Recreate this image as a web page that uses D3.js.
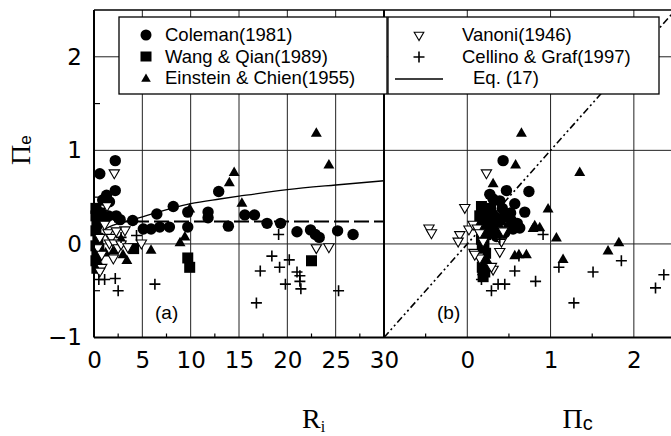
<!DOCTYPE html>
<html>
<head>
<meta charset="utf-8">
<script src="https://cdn.jsdelivr.net/npm/d3@7"></script>
<style>
  body { margin: 0; background: #fff; }
  svg { display: block; }
</style>
</head>
<body>
<svg id="chart" width="671" height="436"></svg>
<script>
// ---- Panel (a): Pi_e against R_i ----
const colemanA = [[0.6,0.75],[2.2,0.89],[2.2,0.57],[1.3,0.52],[0.9,0.47],[1.6,0.45],[0.5,0.34],[1.0,0.31],[1.5,0.30],[2.3,0.30],[2.7,0.26],[1.0,0.25],[0.4,0.26],[4.0,0.25],[6.5,0.32],[8.2,0.40],[5.1,0.16],[5.9,0.16],[6.8,0.18],[7.8,0.18],[9.7,0.34],[9.7,0.18],[11.8,0.34],[11.8,0.28],[12.9,0.56],[13.9,0.19],[15.6,0.31],[16.6,0.31],[17.9,0.22],[19.3,0.22],[21.0,0.13],[22.4,0.15],[22.9,0.10],[23.3,0.07],[25.2,0.14],[26.8,0.10]];
const wangQianA = [[0.2,0.38],[0.2,0.30],[0.3,0.22],[0.2,0.14],[0.4,0.06],[0.2,-0.02],[0.3,-0.10],[0.2,-0.18],[0.3,-0.26],[0.6,0.33],[0.7,0.25],[0.5,-0.05],[4.1,-0.05],[9.7,-0.15],[9.9,-0.25],[22.5,-0.18]];
const einsteinA = [[23.0,1.18],[24.3,0.84],[14.5,0.76],[14.0,0.65],[15.3,0.43],[9.9,0.37],[9.4,0.07],[8.9,0.01],[5.9,-0.07],[3.4,-0.18],[2.8,0.05],[2.0,-0.08],[0.3,-0.15],[0.5,-0.22],[1.2,-0.10],[3.0,-0.12]];
const vanoniA = [[2.1,0.76],[1.35,0.41],[1.1,0.21],[3.2,0.15],[4.9,0.01],[0.6,0.07],[0.4,-0.04],[0.8,-0.11],[1.45,0.12],[1.8,0.07],[1.6,0.01],[2.3,0.14],[2.1,0.01],[2.5,-0.04],[2.0,-0.15],[2.8,0.0],[3.5,-0.03],[0.8,-0.25],[0.6,-0.29],[23.0,-0.04],[24.3,-0.03]];
const cellinoA = [[0.5,-0.38],[1.1,-0.38],[2.2,-0.37],[2.5,-0.50],[6.3,-0.43],[4.4,0.09],[2.8,0.07],[19.1,0.10],[18.4,-0.13],[20.2,-0.17],[19.2,-0.25],[17.2,-0.29],[21.0,-0.30],[21.3,-0.34],[21.3,-0.40],[21.4,-0.48],[19.8,-0.43],[16.8,-0.63],[25.3,-0.50]];
const eq17Curve = [[1,0.15],[2,0.2],[4,0.26],[6,0.32],[8,0.38],[10,0.43],[13,0.48],[15,0.51],[20,0.58],[25,0.63],[30,0.675]];
const meanLine = [[0,0.24],[30,0.24]];

// ---- Panel (b): Pi_e against Pi_c ----
const colemanB = [[0.43,0.89],[0.27,0.53],[0.31,0.48],[0.47,0.57],[0.39,0.46],[0.74,0.56],[0.57,0.43],[0.69,0.34],[0.63,0.17],[0.53,0.25],[0.55,0.16],[0.22,0.30],[0.25,0.35],[0.30,0.32],[0.35,0.28],[0.40,0.25],[0.45,0.30],[0.30,0.20],[0.38,0.15],[0.45,0.12],[0.50,0.18],[0.28,0.12],[0.35,0.08],[0.60,0.22],[0.42,0.38],[0.52,0.33]];
const wangQianB = [[0.17,0.40],[0.20,0.35],[0.15,0.30],[0.22,0.27],[0.17,0.22],[0.25,0.20],[0.18,0.15],[0.22,0.10],[0.17,0.05],[0.20,0.00],[0.18,-0.05],[0.22,-0.10],[0.19,-0.15],[0.20,-0.20],[0.18,-0.25],[0.21,-0.30],[0.19,-0.35],[0.28,0.38],[0.30,0.30]];
const einsteinB = [[0.65,1.18],[0.58,0.84],[1.35,0.76],[0.31,0.64],[0.97,0.37],[0.81,0.19],[0.79,0.16],[0.87,0.17],[1.07,0.06],[1.15,-0.17],[1.69,-0.08],[1.82,0.01],[0.57,-0.13],[0.71,-0.12],[0.62,-0.12],[0.17,0.05],[0.20,-0.10],[0.25,-0.20],[0.18,-0.30]];
const vanoniB = [[-0.46,0.17],[-0.43,0.12],[-0.03,0.39],[-0.09,0.10],[-0.11,0.03],[0.02,0.16],[0.07,0.21],[0.12,0.17],[0.08,-0.09],[0.14,-0.13],[0.23,0.76],[0.15,0.12],[0.19,0.03],[0.15,-0.15],[0.31,-0.27],[0.43,0.14],[0.41,0.03],[0.39,-0.08],[0.29,-0.24],[0.09,-0.11]];
const cellinoB = [[0.91,0.10],[1.10,-0.25],[1.51,-0.30],[1.28,-0.63],[1.85,-0.18],[2.36,-0.33],[2.26,-0.47],[0.57,-0.29],[0.82,-0.40],[0.29,-0.50],[0.37,-0.43],[0.45,-0.43],[0.62,-0.13],[0.39,0.05],[0.17,-0.38]];
const oneToOne = [[-1,-1],[2.5,2.5]];

// ---- Ticks and labels ----
const yTicks = [-1, 0, 1, 2];
const yMinor = [-0.5, 0.5, 1.5];
const xTicksA = [0, 5, 10, 15, 20, 25, 30];
const xMinorA = [2.5, 7.5, 12.5, 17.5, 22.5, 27.5];
const xTicksB = [0, 1, 2];
const xMinorB = [-0.5, 0.5, 1.5];
const legendLeft = ["Coleman(1981)", "Wang & Qian(1989)", "Einstein & Chien(1955)"];
const legendRight = ["Vanoni(1946)", "Cellino & Graf(1997)", "Eq. (17)"];

const svg = d3.select("#chart");
const y = d3.scaleLinear().domain([-1, 2.5]).range([337.5, 10]);
const xa = d3.scaleLinear().domain([0, 30]).range([94, 384]);
const xb = d3.scaleLinear().domain([-1, 2.5]).range([384, 675.5]);
const yTop = y(2.5), yBottom = y(-1);
const sans = "'Liberation Sans', Arial, Helvetica, sans-serif";
const tickFont = "'DejaVu Sans', Verdana, sans-serif";
const serif = "'Liberation Serif', 'Times New Roman', serif";

svg.append("rect").attr("width", 671).attr("height", 436).attr("fill", "#fff");

// grid
const grid = svg.append("g").attr("stroke", "#222").attr("stroke-width", 1);
xTicksA.slice(1, -1).forEach(v => grid.append("line")
  .attr("x1", xa(v)).attr("x2", xa(v)).attr("y1", yTop).attr("y2", yBottom));
xTicksB.forEach(v => grid.append("line")
  .attr("x1", xb(v)).attr("x2", xb(v)).attr("y1", yTop).attr("y2", yBottom));
[0, 1, 2].forEach(v => grid.append("line")
  .attr("x1", xa(0)).attr("x2", 671).attr("y1", y(v)).attr("y2", y(v)));

// minor ticks
const minor = svg.append("g").attr("stroke", "#000").attr("stroke-width", 1.2);
yMinor.forEach(v => minor.append("line")
  .attr("x1", xa(0)).attr("x2", xa(0) + 6).attr("y1", y(v)).attr("y2", y(v)));
xMinorA.forEach(v => minor.append("line")
  .attr("x1", xa(v)).attr("x2", xa(v)).attr("y1", yBottom).attr("y2", yBottom - 4));
xMinorB.forEach(v => minor.append("line")
  .attr("x1", xb(v)).attr("x2", xb(v)).attr("y1", yBottom).attr("y2", yBottom - 4));

// fitted lines
const lineA = d3.line().x(d => xa(d[0])).y(d => y(d[1]));
const lineB = d3.line().x(d => xb(d[0])).y(d => y(d[1]));
svg.append("path").datum(meanLine).attr("d", lineA)
  .attr("fill", "none").attr("stroke", "#000").attr("stroke-width", 2)
  .attr("stroke-dasharray", "15,5");
svg.append("path").datum(eq17Curve).attr("d", lineA.curve(d3.curveMonotoneX))
  .attr("fill", "none").attr("stroke", "#000").attr("stroke-width", 1.3);
svg.append("path").datum(oneToOne).attr("d", lineB)
  .attr("fill", "none").attr("stroke", "#000").attr("stroke-width", 1.6)
  .attr("stroke-dasharray", "7,3,2,3,2,3");

// markers
const triUp = d3.symbol().type(d3.symbolTriangle).size(52)();
const triDown = d3.symbol().type(d3.symbolTriangle).size(46)();
const plus = "M-5.5,0H5.5M0,-5.5V5.5";

function drawSeries(data, xs, kind) {
  const g = svg.append("g");
  const pos = d => `translate(${xs(d[0])},${y(d[1])})`;
  if (kind === "circle") {
    g.selectAll("circle").data(data).join("circle")
      .attr("cx", d => xs(d[0])).attr("cy", d => y(d[1])).attr("r", 5.7).attr("fill", "#000");
  } else if (kind === "square") {
    g.selectAll("rect").data(data).join("rect")
      .attr("x", d => xs(d[0]) - 5.5).attr("y", d => y(d[1]) - 5.5)
      .attr("width", 11).attr("height", 11).attr("fill", "#000");
  } else if (kind === "tri") {
    g.selectAll("path").data(data).join("path")
      .attr("d", triUp).attr("transform", pos).attr("fill", "#000");
  } else if (kind === "opentri") {
    g.selectAll("path").data(data).join("path")
      .attr("d", triDown).attr("transform", d => pos(d) + " rotate(180)")
      .attr("fill", "#fff").attr("stroke", "#000").attr("stroke-width", 1.1);
  } else {
    g.selectAll("path").data(data).join("path")
      .attr("d", plus).attr("transform", pos)
      .attr("fill", "none").attr("stroke", "#000").attr("stroke-width", 1.6);
  }
}
drawSeries(colemanA, xa, "circle");
drawSeries(wangQianA, xa, "square");
drawSeries(einsteinA, xa, "tri");
drawSeries(vanoniA, xa, "opentri");
drawSeries(cellinoA, xa, "plus");
drawSeries(colemanB, xb, "circle");
drawSeries(wangQianB, xb, "square");
drawSeries(einsteinB, xb, "tri");
drawSeries(vanoniB, xb, "opentri");
drawSeries(cellinoB, xb, "plus");

// frame
const frame = svg.append("g").attr("fill", "none").attr("stroke", "#000");
frame.append("line").attr("x1", xa(0)).attr("x2", 671).attr("y1", yTop).attr("y2", yTop).attr("stroke-width", 1.4);
frame.append("line").attr("x1", xa(0)).attr("x2", 671).attr("y1", yBottom).attr("y2", yBottom).attr("stroke-width", 2);
frame.append("line").attr("x1", xa(0)).attr("x2", xa(0)).attr("y1", yTop).attr("y2", yBottom).attr("stroke-width", 2);
frame.append("line").attr("x1", xa(30)).attr("x2", xa(30)).attr("y1", yTop).attr("y2", yBottom).attr("stroke-width", 2);

// axes labels
const fmt = d3.format("d");
const axY = svg.append("g").attr("transform", `translate(${xa(0)},0)`)
  .call(d3.axisLeft(y).tickValues(yTicks).tickSize(0).tickPadding(12).tickFormat(fmt));
const axXa = svg.append("g").attr("transform", `translate(0,${yBottom})`)
  .call(d3.axisBottom(xa).tickValues(xTicksA).tickSize(0).tickPadding(14.5).tickFormat(fmt));
const axXb = svg.append("g").attr("transform", `translate(0,${yBottom})`)
  .call(d3.axisBottom(xb).tickValues(xTicksB).tickSize(0).tickPadding(14.5).tickFormat(fmt));
[axY, axXa, axXb].forEach(ax => {
  ax.select(".domain").remove();
  ax.selectAll("text").attr("font-family", tickFont).attr("font-size", 23).attr("fill", "#000");
});

// panel tags
svg.append("text").attr("x", 155).attr("y", 319).attr("font-family", sans)
  .attr("font-size", 19).text("(a)");
svg.append("text").attr("x", 437).attr("y", 319).attr("font-family", sans)
  .attr("font-size", 19).text("(b)");

// axis titles
const yTitle = svg.append("text").attr("transform", "translate(29.5,165) rotate(-90)")
  .attr("font-family", serif).attr("font-size", 28);
yTitle.append("tspan").text("Π");
yTitle.append("tspan").attr("font-family", sans).attr("font-size", 17).attr("dy", 1).text("e");

const rTitle = svg.append("text").attr("x", 302).attr("y", 428)
  .attr("font-family", serif).attr("font-size", 28);
rTitle.append("tspan").text("R");
rTitle.append("tspan").attr("font-size", 16).attr("dy", 4).text("i");

const pcTitle = svg.append("text").attr("x", 562.5).attr("y", 428.3)
  .attr("font-family", serif).attr("font-size", 28);
pcTitle.append("tspan").text("Π");
pcTitle.append("tspan").attr("font-family", sans).attr("font-size", 20).attr("dy", 2).text("c");

// legends
const legRows = [41, 62.5, 83.5];
const legA = svg.append("g");
legA.append("rect").attr("x", 119).attr("y", 17).attr("width", 268).attr("height", 77)
  .attr("fill", "#fff").attr("stroke", "#000").attr("stroke-width", 1.3);
legA.append("circle").attr("cx", 146).attr("cy", 35).attr("r", 5.5).attr("fill", "#000");
legA.append("rect").attr("x", 140.5).attr("y", 51.5).attr("width", 11).attr("height", 10).attr("fill", "#000");
legA.append("path").attr("d", d3.symbol().type(d3.symbolTriangle).size(40)())
  .attr("transform", "translate(146,79)").attr("fill", "#000");
legendLeft.forEach((t, i) => legA.append("text").attr("x", 165).attr("y", legRows[i])
  .attr("font-family", sans).attr("font-size", 18.5).text(t));

const legB = svg.append("g");
legB.append("rect").attr("x", 388).attr("y", 17).attr("width", 271).attr("height", 77)
  .attr("fill", "#fff").attr("stroke", "#000").attr("stroke-width", 1.3);
legB.append("path").attr("d", d3.symbol().type(d3.symbolTriangle).size(40)())
  .attr("transform", "translate(419,35) rotate(180)")
  .attr("fill", "#fff").attr("stroke", "#000").attr("stroke-width", 1.1);
legB.append("path").attr("d", plus).attr("transform", "translate(419,57)")
  .attr("stroke", "#000").attr("stroke-width", 1.6);
legB.append("line").attr("x1", 395).attr("x2", 443).attr("y1", 79).attr("y2", 79)
  .attr("stroke", "#000").attr("stroke-width", 1.5);
legendRight.forEach((t, i) => legB.append("text").attr("x", i === 2 ? 473 : 462).attr("y", legRows[i])
  .attr("font-family", sans).attr("font-size", 18.5).text(t));
</script>
</body>
</html>
